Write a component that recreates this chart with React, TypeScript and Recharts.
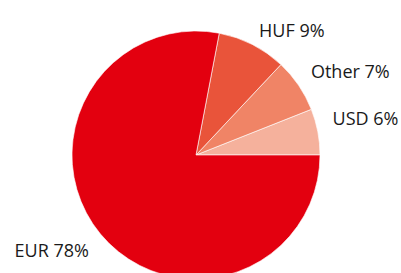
import { PieChart, Pie, Cell } from "recharts";

// ── Data ──────────────────────────────────────────────────

const currencies = ["USD", "Other", "HUF", "EUR"];
const shares = [6, 7, 9, 78];
const colors = ["#f5b19c", "#f08466", "#e9543a", "#e3000f"];

const data = currencies.map((name, i) => ({ name, value: shares[i] }));

// ── Helpers ───────────────────────────────────────────────

const RAD = Math.PI / 180;
const LABEL_RX = 139;
const LABEL_RY = 126;

const renderLabel = (props: any) => {
  const { cx, cy, midAngle, name, value } = props;
  const px = cx + LABEL_RX * Math.cos(-midAngle * RAD);
  const py = cy + LABEL_RY * Math.sin(-midAngle * RAD);
  const right = px > cx;
  const upper = py < cy;
  return (
    <text
      x={px}
      y={upper ? py - 6 : py + 22}
      textAnchor={right ? "start" : "end"}
      fill="#1a1a1a"
      fontSize={18}
      fontFamily="'Open Sans', sans-serif"
    >
      {`${name} ${value}%`}
    </text>
  );
};

// ── Component ─────────────────────────────────────────────

export default function App() {
  return (
    <div style={{ position: "fixed", left: 0, top: 0, background: "#fff" }}>
      <PieChart
        width={401}
        height={273}
        margin={{ top: 0, right: 0, bottom: 0, left: 0 }}
      >
        <Pie
          data={data}
          dataKey="value"
          nameKey="name"
          cx={196}
          cy={155}
          outerRadius={124}
          startAngle={0}
          endAngle={360}
          stroke="#ffffff"
          strokeOpacity={0.6}
          strokeWidth={1}
          label={renderLabel}
          labelLine={false}
          isAnimationActive={false}
        >
          {data.map((d, i) => (
            <Cell key={d.name} fill={colors[i]} />
          ))}
        </Pie>
      </PieChart>
    </div>
  );
}
